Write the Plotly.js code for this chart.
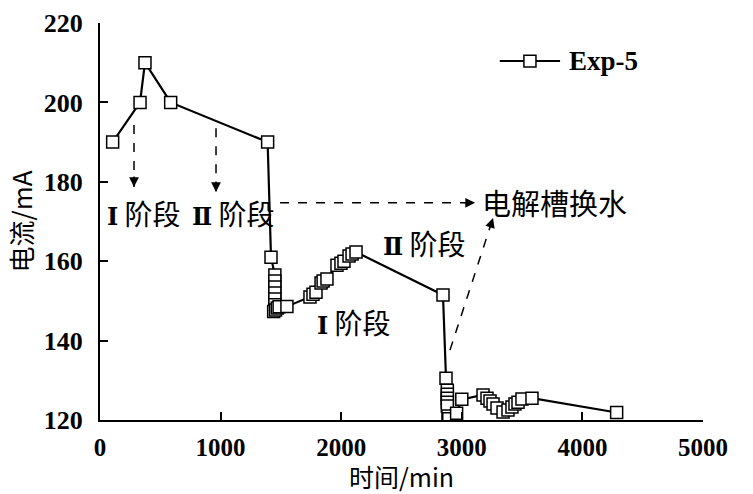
<!DOCTYPE html>
<html>
<head>
<meta charset="utf-8">
<script src="https://cdn.plot.ly/plotly-3.0.1.min.js"></script>
<style>html,body{margin:0;padding:0;background:#fff;}#chart{width:753px;height:494px;}</style>
</head>
<body>
<div id="chart"></div>
<script>
// Data
const seriesName = "Exp-5";
const timeMin = [105, 332, 373, 586, 1390, 1418,
  1450, 1450, 1450, 1450, 1450, 1450,
  1440, 1455, 1470, 1485, 1550,
  1741, 1766, 1791, 1833, 1850, 1882, 1965, 1998, 2023, 2065, 2090, 2123,
  2844, 2869,
  2880, 2880, 2880, 2880, 2880, 2885, 2892,
  2957, 3000,
  3176, 3209, 3234, 3259, 3292, 3342, 3383, 3416, 3441, 3466, 3499, 3582,
  4284];
const currentMA = [190, 200, 210, 200, 190, 161,
  156.5, 155, 153.5, 152, 150.5, 149,
  147.3, 147.7, 148.2, 148.5, 148.6,
  151, 151.7, 152.2, 154.5, 155, 155.5, 159, 159.5, 160, 161.3, 161.8, 162.3,
  151.5, 130.5,
  127.5, 126.5, 125.5, 124.5, 123.5, 121, 120.3,
  121.7, 125.2,
  126.3, 125.5, 124.8, 124, 123, 122, 122.5, 123.3, 124, 124.5, 125.3, 125.5,
  121.9];
const xTicks = [0, 1000, 2000, 3000, 4000, 5000];
const yTicks = [120, 140, 160, 180, 200, 220];
const xTitle = "时间/min";
const yTitle = "电流/mA";
const stageNum1 = "Ⅰ";
const stageNum2 = "Ⅱ";
const stageWord = "阶段";
const labelWater = "电解槽换水";

const latin = "Liberation Serif, Times New Roman, serif";
const cjk = "Noto Sans CJK SC, Liberation Serif, serif";

const trace = {
  x: timeMin, y: currentMA, name: seriesName, type: "scatter", mode: "lines+markers",
  showlegend: false,
  line: {color: "#000", width: 2.2},
  marker: {symbol: "square", size: 12, color: "#fff", line: {color: "#000", width: 1.5}}
};

// plot area size in px, for arrowhead direction
const plotW = 603, plotH = 397;
const pxPerX = plotW / 5000, pxPerY = plotH / 100;

// dashed arrows: [x0, y0, x1(tip), y1(tip)]
const arrows = [
  [282, 194.3, 282, 178.7],
  [962, 193.5, 962, 177.4],
  [1493, 174.7, 3110, 174.7],
  [2902, 137.6, 3259, 170.9]
];
const shapes = arrows.map(a => ({
  type: "line", xref: "x", yref: "y", x0: a[0], y0: a[1], x1: a[2], y1: a[3],
  line: {color: "#000", width: 1.5, dash: "dash"}
}));
// legend drawn by hand (long line sample as in the reference)
shapes.push(
  {type: "line", xref: "paper", yref: "paper", x0: 0.663, x1: 0.763, y0: 0.904, y1: 0.904,
   line: {color: "#000", width: 2}},
  {type: "rect", xref: "paper", yref: "paper", x0: 0.703, x1: 0.723, y0: 0.889, y1: 0.919,
   fillcolor: "#fff", line: {color: "#000", width: 1.5}}
);
const annotations = arrows.map(a => {
  const dx = (a[2] - a[0]) * pxPerX, dy = -(a[3] - a[1]) * pxPerY;
  const len = Math.sqrt(dx * dx + dy * dy);
  return {
    xref: "x", yref: "y", x: a[2], y: a[3],
    ax: -dx / len * 12, ay: -dy / len * 12,
    text: "", showarrow: true, arrowhead: 2, arrowsize: 1.3, arrowwidth: 1.5, arrowcolor: "#000"
  };
});
const textFont = {family: cjk, size: 28, color: "#000"};
function stage(num) {
  return "<span style='font-family:DejaVu Serif;font-weight:bold;font-size:24px'>" + num + "</span> " + stageWord;
}
annotations.push(
  {xref: "x", yref: "y", x: 365, y: 172.1, text: stage(stageNum1), showarrow: false, font: textFont},
  {xref: "x", yref: "y", x: 1103, y: 172.1, text: stage(stageNum2), showarrow: false, font: textFont},
  {xref: "x", yref: "y", x: 2687, y: 164.6, text: stage(stageNum2), showarrow: false, font: textFont},
  {xref: "x", yref: "y", x: 2106, y: 144.7, text: stage(stageNum1), showarrow: false, font: textFont},
  {xref: "x", yref: "y", x: 3155, y: 175, xanchor: "left", text: labelWater, showarrow: false,
   font: {family: cjk, size: 29, color: "#000"}},
  {xref: "paper", yref: "paper", x: 0.774, y: 0.904, xanchor: "left", yanchor: "middle",
   text: seriesName, showarrow: false, font: {family: latin, size: 27, color: "#000", weight: "bold"}}
);

const layout = {
  width: 753, height: 494,
  margin: {l: 100, r: 50, t: 23, b: 74, pad: 0},
  paper_bgcolor: "#fff", plot_bgcolor: "#fff",
  showlegend: false,
  xaxis: {
    range: [0, 5000], tickvals: xTicks, ticktext: xTicks.map(String),
    showgrid: false, zeroline: false, showline: true, linecolor: "#000", linewidth: 2,
    ticks: "inside", ticklen: 8, tickwidth: 2, tickcolor: "#000",
    ticklabelstandoff: 4,
    tickfont: {family: latin, size: 25, color: "#000", weight: "bold"},
    title: {text: xTitle, font: {family: cjk, size: 25, color: "#000"}, standoff: 7}
  },
  yaxis: {
    range: [120, 220], tickvals: yTicks, ticktext: yTicks.map(String),
    showgrid: false, zeroline: false, showline: true, linecolor: "#000", linewidth: 2,
    ticks: "inside", ticklen: 8, tickwidth: 2, tickcolor: "#000",
    ticklabelstandoff: 10,
    tickfont: {family: latin, size: 26, color: "#000", weight: "bold"},
    title: {text: yTitle, font: {family: cjk, size: 26, color: "#000"}, standoff: 4}
  },
  shapes: shapes,
  annotations: annotations
};

Plotly.newPlot("chart", [trace], layout, {displayModeBar: false, staticPlot: true});
</script>
</body>
</html>
